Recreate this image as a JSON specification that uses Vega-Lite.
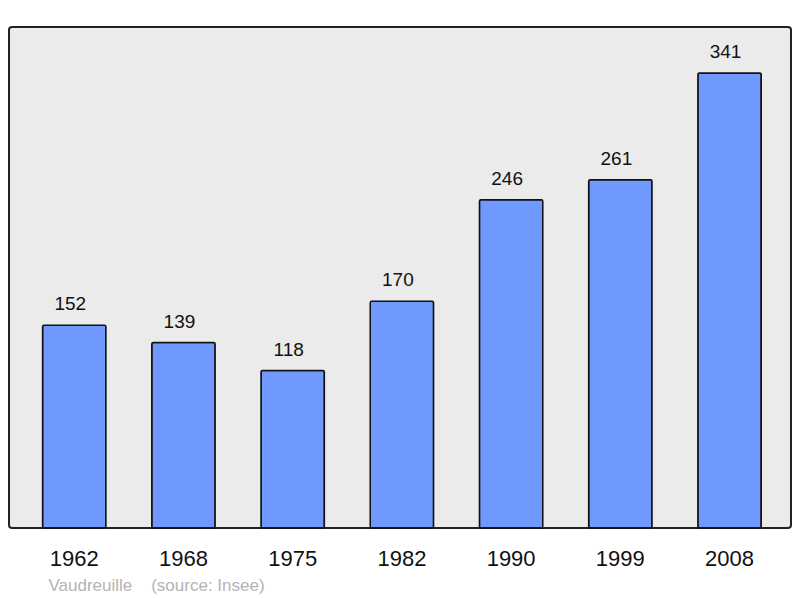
{
  "$schema": "https://vega.github.io/schema/vega-lite/v6.json",
  "autosize": "none",
  "width": 782,
  "height": 501,
  "padding": {"left": 9, "top": 27, "right": 9, "bottom": 70},
  "background": "white",
  "data": {
    "values": [
      {"year": "1962", "pop": 152},
      {"year": "1968", "pop": 139},
      {"year": "1975", "pop": 118},
      {"year": "1982", "pop": 170},
      {"year": "1990", "pop": 246},
      {"year": "1999", "pop": 261},
      {"year": "2008", "pop": 341}
    ]
  },
  "encoding": {
    "x": {
      "field": "year",
      "type": "ordinal",
      "scale": {"paddingInner": 0.42, "paddingOuter": 0.29, "align": 0.53},
      "axis": {
        "title": "Vaudreuille\u00a0\u00a0\u00a0\u00a0(source: Insee)",
        "titleFont": "Liberation Sans",
        "titleFontSize": 17,
        "titleFontWeight": "normal",
        "titleColor": "#b3b3b3",
        "titleAnchor": "start",
        "titleAlign": "left",
        "titleBaseline": "alphabetic",
        "titleX": 39,
        "titleY": 62,
        "labelFont": "Liberation Sans",
        "labelFontSize": 22,
        "labelColor": "#111111",
        "labelAngle": 0,
        "labelBaseline": "alphabetic",
        "labelPadding": 37,
        "ticks": false,
        "domain": false
      }
    },
    "y": {
      "field": "pop",
      "type": "quantitative",
      "scale": {"domain": [0, 375.5], "nice": false},
      "axis": null
    }
  },
  "layer": [
    {
      "mark": {"type": "bar", "color": "#7099ff", "stroke": "#111111", "strokeWidth": 1.5, "cornerRadius": 1.5}
    },
    {
      "mark": {"type": "text", "font": "Liberation Sans", "fontSize": 19, "color": "#111111", "baseline": "alphabetic", "dy": -15, "dx": -4},
      "encoding": {"text": {"field": "pop"}}
    }
  ],
  "config": {
    "view": {"fill": "#ebebeb", "stroke": "#222222", "strokeWidth": 2, "cornerRadius": 3}
  }
}
